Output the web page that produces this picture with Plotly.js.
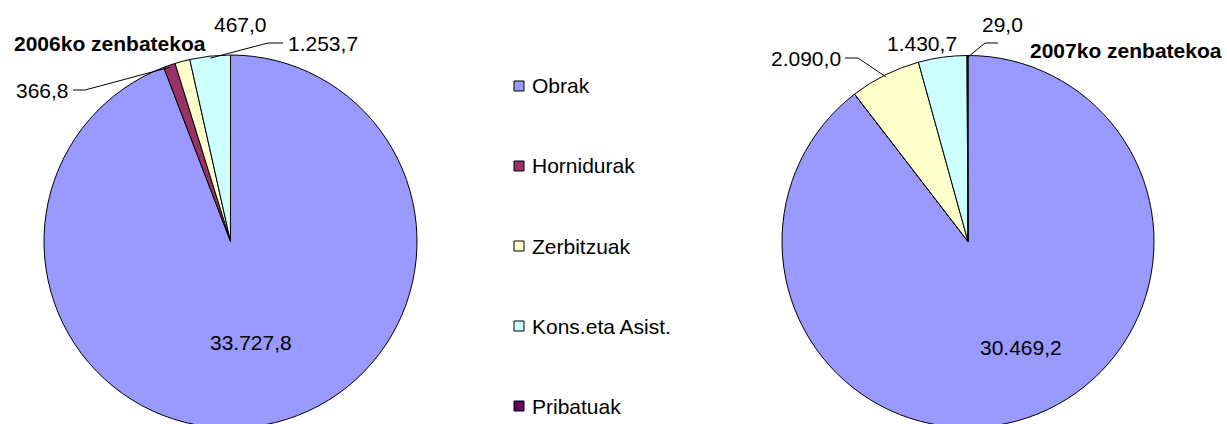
<!DOCTYPE html>
<html>
<head>
<meta charset="utf-8">
<script src="https://cdn.plot.ly/plotly-3.0.1.min.js"></script>
<style>
html,body{margin:0;padding:0;width:1227px;height:424px;overflow:hidden;background:#fff;}
#chart{width:1227px;height:440px;}
</style>
</head>
<body>
<div id="chart"></div>
<script>
// ---- data ----
const categories = ['Obrak', 'Hornidurak', 'Zerbitzuak', 'Kons.eta Asist.', 'Pribatuak'];
const values2006 = [33727.8, 366.8, 467.0, 1253.7, 0];
const values2007 = [30469.2, 0, 2090.0, 1430.7, 29.0];
const chartTitles = ['2006ko zenbatekoa', '2007ko zenbatekoa'];

// ---- style ----
const colors = ['#9999FF', '#993366', '#FFFFCC', '#CCFFFF', '#660066'];
const W = 1227, H = 440;
const FONT = 'Liberation Sans, Arial, sans-serif';
const FS = 21;
const pies = [
  {cx: 230.5, cy: 241.5, r: 186.5},
  {cx: 968, cy: 241.5, r: 186}
];
// label placement (pixel positions of label text), leader elbows
const labelCfg = [
  [
    {i: 0, x: 251, y: 342, anchor: 'center'},
    {i: 1, x: 71, y: 90, anchor: 'right', line: [[73, 90], [85, 90]]},
    {i: 2, x: 240, y: 25, anchor: 'center'},
    {i: 3, x: 286, y: 44, anchor: 'left', line: [[283, 43], [268, 43]]}
  ],
  [
    {i: 0, x: 1021, y: 347, anchor: 'center'},
    {i: 2, x: 843, y: 58, anchor: 'right', line: [[845, 58], [858, 58]]},
    {i: 3, x: 922, y: 43, anchor: 'center'},
    {i: 4, x: 1002, y: 25, anchor: 'center', line: [[998, 43], [985, 43]]}
  ]
];
const titlePos = [{x: 12, y: 43, anchor: 'left'}, {x: 1224, y: 50, anchor: 'right'}];
const legendPos = {x: 514, y0: 86, step: 80, box: 10, gap: 6};

const px = x => x / W;
const py = y => 1 - y / H;

function fmt(v) {
  const s = v.toFixed(1).split('.');
  return s[0].replace(/\B(?=(\d{3})+(?!\d))/g, '.') + ',' + s[1];
}

const seriesList = [values2006, values2007];
const traces = [];
const annotations = [];
const shapes = [];

seriesList.forEach((vals, k) => {
  const p = pies[k];
  traces.push({
    type: 'pie',
    labels: categories,
    values: vals,
    sort: false,
    direction: 'clockwise',
    rotation: 0,
    textinfo: 'none',
    hoverinfo: 'label+value+percent',
    showlegend: false,
    marker: {colors: colors, line: {color: '#000000', width: 1}},
    domain: {
      x: [px(p.cx - p.r), px(p.cx + p.r)],
      y: [py(p.cy + p.r), py(p.cy - p.r)]
    }
  });
  const total = vals.reduce((a, b) => a + b, 0);
  let cum = 0;
  const mids = vals.map(v => { const m = (cum + v / 2) / total * 2 * Math.PI; cum += v; return m; });
  labelCfg[k].forEach(c => {
    annotations.push({
      xref: 'paper', yref: 'paper', x: px(c.x), y: py(c.y),
      xanchor: c.anchor, yanchor: 'middle', showarrow: false,
      text: fmt(vals[c.i]), font: {family: FONT, size: FS, color: '#000'}
    });
    if (c.line) {
      const th = mids[c.i];
      const ax = p.cx + (p.r - 2) * Math.sin(th);
      const ay = p.cy - (p.r - 2) * Math.cos(th);
      const pts = c.line.concat([[ax, ay]]);
      const path = pts.map((q, j) => (j ? 'L' : 'M') + px(q[0]) + ',' + py(q[1])).join(' ');
      shapes.push({type: 'path', xref: 'paper', yref: 'paper', path: path,
        line: {color: '#000', width: 1}});
    }
  });
  annotations.push({
    xref: 'paper', yref: 'paper', x: px(titlePos[k].x), y: py(titlePos[k].y),
    xanchor: titlePos[k].anchor, yanchor: 'middle', showarrow: false,
    text: '<b>' + chartTitles[k] + '</b>', font: {family: FONT, size: FS, color: '#000'}
  });
});

// custom legend
categories.forEach((c, i) => {
  const yc = legendPos.y0 + i * legendPos.step;
  const b = legendPos.box;
  shapes.push({type: 'rect', xref: 'paper', yref: 'paper',
    x0: px(legendPos.x), x1: px(legendPos.x + b), y0: py(yc + b / 2), y1: py(yc - b / 2),
    fillcolor: colors[i], line: {color: '#000', width: 1}});
  annotations.push({
    xref: 'paper', yref: 'paper', x: px(legendPos.x + b + legendPos.gap), y: py(yc),
    xanchor: 'left', yanchor: 'middle', showarrow: false,
    text: c, font: {family: FONT, size: FS, color: '#000'}
  });
});

const layout = {
  width: W, height: H,
  margin: {l: 0, r: 0, t: 0, b: 0},
  paper_bgcolor: '#ffffff',
  separators: ',.',
  showlegend: false,
  annotations: annotations,
  shapes: shapes,
  font: {family: FONT, size: FS, color: '#000'}
};
Plotly.newPlot('chart', traces, layout, {displayModeBar: false, staticPlot: true});
</script>
</body>
</html>
